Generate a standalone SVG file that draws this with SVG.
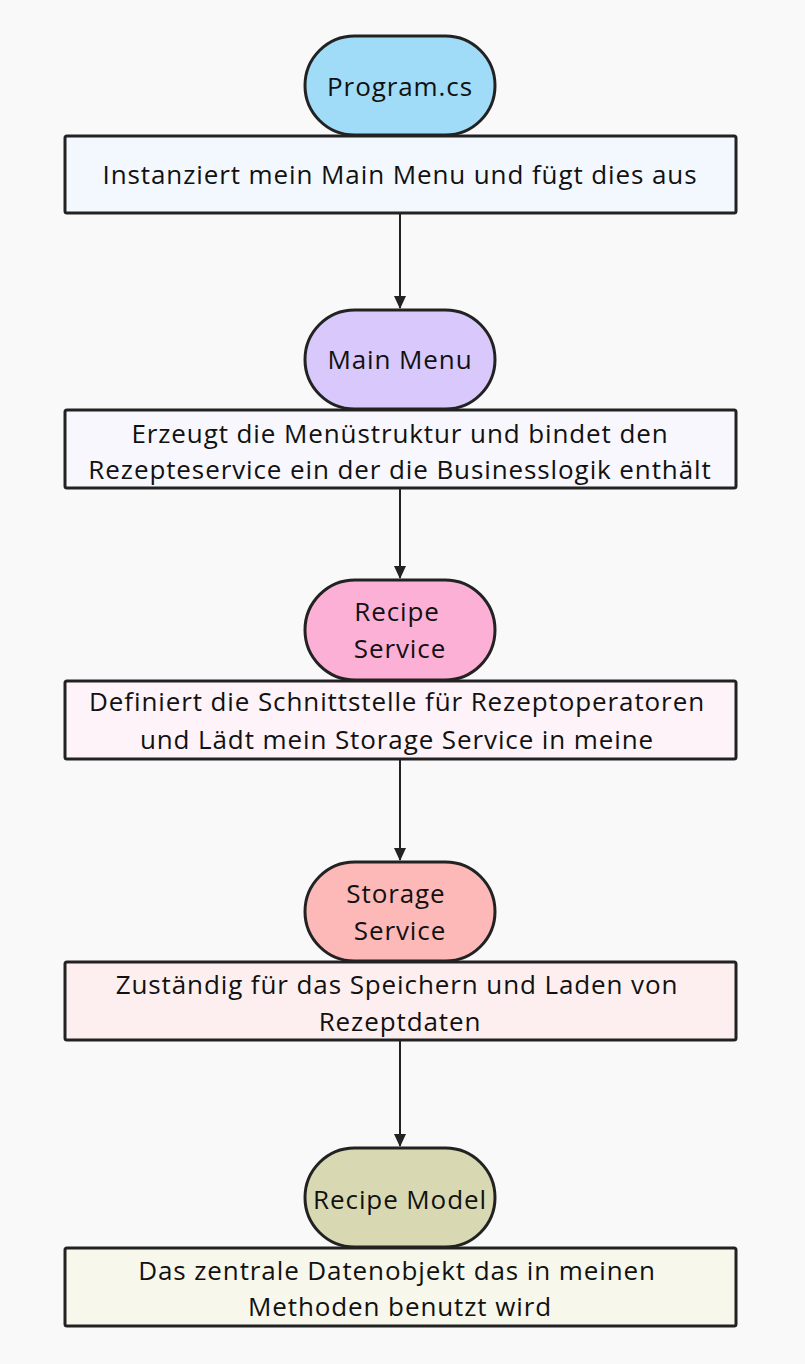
<svg xmlns="http://www.w3.org/2000/svg" width="805" height="1364" viewBox="0 0 805 1364">
<defs>
<marker id="arr" markerWidth="14" markerHeight="14" refX="12" refY="7" orient="auto" markerUnits="userSpaceOnUse">
<path d="M0,1 L13,7 L0,13 Z" fill="#222"/>
</marker>
<style>
.pill{stroke:#222;stroke-width:3}
.box{stroke:#222;stroke-width:3}
text{font-family:"Open Sans","Liberation Sans",sans-serif;font-size:26px;letter-spacing:0.9px;fill:#111;text-anchor:middle}
.edge{stroke:#222;stroke-width:2;fill:none}
</style>
</defs>
<rect width="805" height="1364" fill="#f9f9f9"/>
<g id="connectors">
<line class="edge" x1="400" y1="214" x2="400" y2="308" marker-end="url(#arr)"/>
<line class="edge" x1="400" y1="489" x2="400" y2="578" marker-end="url(#arr)"/>
<line class="edge" x1="400" y1="760" x2="400" y2="860" marker-end="url(#arr)"/>
<line class="edge" x1="400" y1="1041" x2="400" y2="1146" marker-end="url(#arr)"/>
</g>
<g id="program">
<rect class="pill" x="305" y="36" width="190" height="99" rx="49.5" fill="#a0dcf7"/>
<text x="400" y="96">Program.cs</text>
</g>
<g id="program-desc">
<rect class="box" x="65" y="136" width="671" height="77" rx="2" fill="#f3f8fe"/>
<text x="400" y="184">Instanziert mein Main Menu und fügt dies aus</text>
</g>
<g id="mainmenu">
<rect class="pill" x="305" y="310" width="190" height="99" rx="49.5" fill="#d8c8fb"/>
<text x="400" y="369">Main Menu</text>
</g>
<g id="mainmenu-desc">
<rect class="box" x="65" y="410" width="671" height="78" rx="2" fill="#f7f7fd"/>
<text x="400" y="443">Erzeugt die Menüstruktur und bindet den</text>
<text x="400" y="479">Rezepteservice ein der die Businesslogik enthält</text>
</g>
<g id="recipeservice">
<rect class="pill" x="305" y="580" width="190" height="100" rx="50" fill="#fcb0d5"/>
<text x="397" y="621">Recipe</text>
<text x="400" y="658">Service</text>
</g>
<g id="recipeservice-desc">
<rect class="box" x="65" y="681" width="671" height="78" rx="2" fill="#fdf3f8"/>
<text x="397" y="711">Definiert die Schnittstelle für Rezeptoperatoren</text>
<text x="397" y="749">und Lädt mein Storage Service in meine</text>
</g>
<g id="storageservice">
<rect class="pill" x="305" y="862" width="190" height="99" rx="49.5" fill="#fdb8b8"/>
<text x="396" y="903">Storage</text>
<text x="400" y="940">Service</text>
</g>
<g id="storageservice-desc">
<rect class="box" x="65" y="962" width="671" height="78" rx="2" fill="#fdefef"/>
<text x="397" y="994">Zuständig für das Speichern und Laden von</text>
<text x="400" y="1031">Rezeptdaten</text>
</g>
<g id="recipemodel">
<rect class="pill" x="305" y="1148" width="190" height="99" rx="49.5" fill="#d8d9b2"/>
<text x="400" y="1209">Recipe Model</text>
</g>
<g id="recipemodel-desc">
<rect class="box" x="65" y="1248" width="671" height="78" rx="2" fill="#f7f7ec"/>
<text x="397" y="1280">Das zentrale Datenobjekt das in meinen</text>
<text x="400" y="1316">Methoden benutzt wird</text>
</g>
</svg>
